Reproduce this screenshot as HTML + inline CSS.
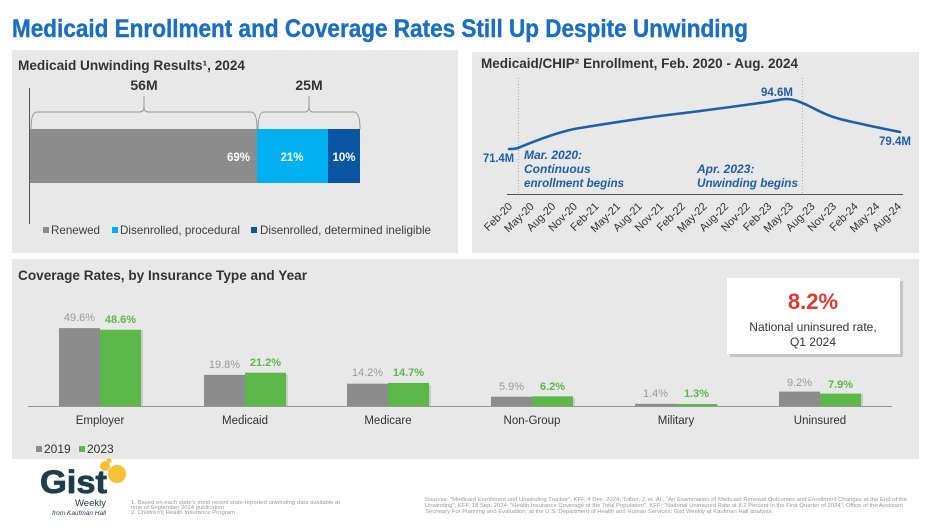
<!DOCTYPE html>
<html>
<head>
<meta charset="utf-8">
<style>
html,body{margin:0;padding:0;background:#fff;}
svg{display:block;}
text{font-family:"Liberation Sans",Arial,sans-serif;}
</style>
</head>
<body>
<svg width="938" height="527" viewBox="0 0 938 527" xmlns="http://www.w3.org/2000/svg">
  <rect x="0" y="0" width="938" height="527" fill="#ffffff"/>

  <!-- Main title -->
  <text x="12" y="37" font-size="25" font-weight="bold" fill="#1a6fc2" stroke="#1a6fc2" stroke-width="0.4" textLength="736" lengthAdjust="spacingAndGlyphs">Medicaid Enrollment and Coverage Rates Still Up Despite Unwinding</text>

  <!-- Panels -->
  <rect x="12" y="50" width="446" height="203" fill="#e8e8e8"/>
  <rect x="472" y="52" width="447" height="201" fill="#e8e8e8"/>
  <rect x="12" y="259" width="907" height="200" fill="#e8e8e8"/>

  <!-- ============ Panel 1 ============ -->
  <text x="18" y="70" font-size="13.5" font-weight="bold" fill="#333" textLength="227" lengthAdjust="spacingAndGlyphs">Medicaid Unwinding Results¹, 2024</text>
  <line x1="29.5" y1="88" x2="29.5" y2="224" stroke="#555" stroke-width="1"/>
  <path d="M31,129 Q31,112 37,112 L140,112 Q144,112 144,106 Q144,112 148,112 L251,112 Q257,112 257,129 M144,106 L144,96" fill="none" stroke="#999" stroke-width="1"/>
  <path d="M258,129 Q258,112 264,112 L305,112 Q309,112 309,106 Q309,112 313,112 L354,112 Q360,112 360,129 M309,106 L309,96" fill="none" stroke="#999" stroke-width="1"/>
  <text x="144" y="90" font-size="14" font-weight="bold" fill="#333" text-anchor="middle">56M</text>
  <text x="309" y="90" font-size="14" font-weight="bold" fill="#333" text-anchor="middle">25M</text>
  <rect x="30" y="129" width="227" height="54" fill="#8d8d8d"/>
  <rect x="257" y="129" width="71" height="54" fill="#00b0f0"/>
  <rect x="328" y="129" width="32" height="54" fill="#0a56a3"/>
  <text x="250" y="161" font-size="11.5" font-weight="bold" fill="#fff" text-anchor="end">69%</text>
  <text x="292" y="161" font-size="11.5" font-weight="bold" fill="#fff" text-anchor="middle">21%</text>
  <text x="344" y="161" font-size="11.5" font-weight="bold" fill="#fff" text-anchor="middle">10%</text>
  <rect x="43" y="227" width="6" height="6" fill="#8d8d8d"/>
  <text x="51" y="234" font-size="12" fill="#404040" textLength="49" lengthAdjust="spacingAndGlyphs">Renewed</text>
  <rect x="112" y="227" width="6" height="6" fill="#00b0f0"/>
  <text x="120" y="234" font-size="12" fill="#404040" textLength="120" lengthAdjust="spacingAndGlyphs">Disenrolled, procedural</text>
  <rect x="251" y="227" width="6" height="6" fill="#0a56a3"/>
  <text x="260" y="234" font-size="12" fill="#404040" textLength="171" lengthAdjust="spacingAndGlyphs">Disenrolled, determined ineligible</text>

  <!-- ============ Panel 2 ============ -->
  <text x="481" y="68" font-size="13.5" font-weight="bold" fill="#333" textLength="317" lengthAdjust="spacingAndGlyphs">Medicaid/CHIP² Enrollment, Feb. 2020 - Aug. 2024</text>
  <line x1="518.5" y1="78" x2="518.5" y2="194" stroke="#aaa" stroke-width="1" stroke-dasharray="1,2"/>
  <line x1="802.5" y1="78" x2="802.5" y2="194" stroke="#aaa" stroke-width="1" stroke-dasharray="1,2"/>
  <line x1="507" y1="194.5" x2="903" y2="194.5" stroke="#555" stroke-width="1"/>
  <path d="M509,149 C513,149 515,149 518,148 C530,143 560,131 580,128 C610,123 650,117 680,113.5 C710,110 745,105 767,102 C776,100.5 782,99 787,99 C793,99 798,101 807,105 C820,111.5 828,116 840,119 C860,124 885,129 900,132" fill="none" stroke="#1f5fa8" stroke-width="2.6" stroke-linejoin="round" stroke-linecap="round"/>
  <text x="483" y="162" font-size="11.5" font-weight="bold" fill="#1f5fa8" textLength="31" lengthAdjust="spacingAndGlyphs">71.4M</text>
  <text x="777" y="96" font-size="11.5" font-weight="bold" fill="#1f5fa8" text-anchor="middle">94.6M</text>
  <text x="911" y="145" font-size="11.5" font-weight="bold" fill="#1f5fa8" text-anchor="end">79.4M</text>
  <g font-size="12" font-weight="bold" font-style="italic" fill="#1f5fa8">
    <text x="524" y="159">Mar. 2020:</text>
    <text x="524" y="173">Continuous</text>
    <text x="524" y="187" textLength="100" lengthAdjust="spacingAndGlyphs">enrollment begins</text>
    <text x="697" y="173">Apr. 2023:</text>
    <text x="697" y="187" textLength="101" lengthAdjust="spacingAndGlyphs">Unwinding begins</text>
  </g>
  <g font-size="11" fill="#333" text-anchor="end">
    <text transform="translate(513,207) rotate(-45)">Feb-20</text>
    <text transform="translate(534.6,207) rotate(-45)">May-20</text>
    <text transform="translate(556.2,207) rotate(-45)">Aug-20</text>
    <text transform="translate(577.8,207) rotate(-45)">Nov-20</text>
    <text transform="translate(599.4,207) rotate(-45)">Feb-21</text>
    <text transform="translate(621,207) rotate(-45)">May-21</text>
    <text transform="translate(642.6,207) rotate(-45)">Aug-21</text>
    <text transform="translate(664.2,207) rotate(-45)">Nov-21</text>
    <text transform="translate(685.8,207) rotate(-45)">Feb-22</text>
    <text transform="translate(707.4,207) rotate(-45)">May-22</text>
    <text transform="translate(729,207) rotate(-45)">Aug-22</text>
    <text transform="translate(750.6,207) rotate(-45)">Nov-22</text>
    <text transform="translate(772.2,207) rotate(-45)">Feb-23</text>
    <text transform="translate(793.8,207) rotate(-45)">May-23</text>
    <text transform="translate(815.4,207) rotate(-45)">Aug-23</text>
    <text transform="translate(837,207) rotate(-45)">Nov-23</text>
    <text transform="translate(858.6,207) rotate(-45)">Feb-24</text>
    <text transform="translate(880.2,207) rotate(-45)">May-24</text>
    <text transform="translate(901.8,207) rotate(-45)">Aug-24</text>
  </g>

  <!-- ============ Panel 3 ============ -->
  <text x="18" y="280" font-size="13.5" font-weight="bold" fill="#333" textLength="289" lengthAdjust="spacingAndGlyphs">Coverage Rates, by Insurance Type and Year</text>

  <g fill="#000" opacity="0.12">
    <rect x="61" y="330" width="82" height="76"/>
    <rect x="206" y="375" width="82" height="31"/>
    <rect x="349" y="385" width="82" height="21"/>
    <rect x="493" y="398" width="82" height="8"/>
    <rect x="637" y="405" width="82" height="1"/>
    <rect x="781" y="394" width="82" height="12"/>
  </g>
  <g fill="#8d8d8d">
    <rect x="59" y="328.1" width="41" height="77.9"/>
    <rect x="204" y="374.9" width="41" height="31.1"/>
    <rect x="347" y="383.7" width="41" height="22.3"/>
    <rect x="491" y="396.7" width="41" height="9.3"/>
    <rect x="635" y="403.8" width="41" height="2.2"/>
    <rect x="779" y="391.6" width="41" height="14.4"/>
  </g>
  <g fill="#5cb848">
    <rect x="100" y="329.7" width="41" height="76.3"/>
    <rect x="245" y="372.7" width="41" height="33.3"/>
    <rect x="388" y="382.9" width="41" height="23.1"/>
    <rect x="532" y="396.3" width="41" height="9.7"/>
    <rect x="676" y="404" width="41" height="2"/>
    <rect x="820" y="393.6" width="41" height="12.4"/>
  </g>
  <line x1="28" y1="406.5" x2="892" y2="406.5" stroke="#999" stroke-width="1"/>
  <g font-size="11" fill="#9a9a9a" text-anchor="middle">
    <text x="79.5" y="321">49.6%</text>
    <text x="224.5" y="368">19.8%</text>
    <text x="367.5" y="376">14.2%</text>
    <text x="511.5" y="390">5.9%</text>
    <text x="655.5" y="397">1.4%</text>
    <text x="799.5" y="386">9.2%</text>
  </g>
  <g font-size="11" font-weight="bold" fill="#5cb848" text-anchor="middle">
    <text x="120.5" y="323">48.6%</text>
    <text x="265.5" y="366">21.2%</text>
    <text x="408.5" y="376">14.7%</text>
    <text x="552.5" y="390">6.2%</text>
    <text x="696.5" y="397">1.3%</text>
    <text x="840.5" y="388">7.9%</text>
  </g>
  <g font-size="11.5" fill="#333" text-anchor="middle">
    <text x="100" y="424">Employer</text>
    <text x="245" y="424">Medicaid</text>
    <text x="388" y="424">Medicare</text>
    <text x="532" y="424">Non-Group</text>
    <text x="676" y="424">Military</text>
    <text x="820" y="424">Uninsured</text>
  </g>
  <rect x="36" y="446" width="6" height="6" fill="#8d8d8d"/>
  <text x="44" y="453" font-size="12" fill="#333">2019</text>
  <rect x="79" y="446" width="6" height="6" fill="#5cb848"/>
  <text x="87" y="453" font-size="12" fill="#333">2023</text>

  <rect x="730" y="281" width="173" height="76" fill="#000" opacity="0.15"/>
  <rect x="727" y="278" width="173" height="76" fill="#ffffff"/>
  <text x="813" y="309" font-size="22" font-weight="bold" fill="#e03a2e" text-anchor="middle">8.2%</text>
  <text x="813" y="331" font-size="12" fill="#333" text-anchor="middle">National uninsured rate,</text>
  <text x="813" y="346" font-size="12" fill="#333" text-anchor="middle">Q1 2024</text>

  <!-- ============ Footer ============ -->
  <circle cx="117" cy="474" r="9" fill="#f7c232"/>
  <circle cx="105" cy="466" r="5" fill="#f7c232"/>
  <circle cx="109" cy="460.5" r="2.5" fill="#f7c232"/>
  <text x="40" y="493" font-size="32" font-weight="bold" fill="#1e3d4c" stroke="#1e3d4c" stroke-width="0.8" textLength="67" lengthAdjust="spacingAndGlyphs">Gist</text>
  <text x="106" y="506" font-size="9.5" fill="#1e3d4c" text-anchor="end">Weekly</text>
  <text x="106" y="515" font-size="6.5" font-style="italic" fill="#1e3d4c" text-anchor="end">from Kaufman Hall</text>

  <g font-size="5.5" fill="#9a9a9a">
    <text x="131" y="504" textLength="209" lengthAdjust="spacingAndGlyphs">1. Based on each state's most recent state-reported unwinding data available at</text>
    <text x="131" y="509" textLength="93" lengthAdjust="spacingAndGlyphs">time of September 2024 publication</text>
    <text x="131" y="514" textLength="104" lengthAdjust="spacingAndGlyphs">2. Children's Health Insurance Program</text>
  </g>
  <g font-size="5.5" fill="#9a9a9a">
    <text x="425" y="501" textLength="482" lengthAdjust="spacingAndGlyphs">Sources: "Medicaid Enrollment and Unwinding Tracker", KFF, 4 Dec. 2024; Tolber, J. et. Al., "An Examination of Medicaid Renewal Outcomes and Enrollment Changes at the End of the</text>
    <text x="425" y="507" textLength="478" lengthAdjust="spacingAndGlyphs">Unwinding", KFF, 18 Sep. 2024; "Health Insurance Coverage of the Total Population", KFF; "National Uninsured Rate at 8.2 Percent in the First Quarter of 2024", Office of the Assistant</text>
    <text x="425" y="513" textLength="348" lengthAdjust="spacingAndGlyphs">Secretary For Planning and Evaluation, at the U.S. Department of Health and Human Services; Gist Weekly at Kaufman Hall analysis.</text>
  </g>
</svg>
</body>
</html>
